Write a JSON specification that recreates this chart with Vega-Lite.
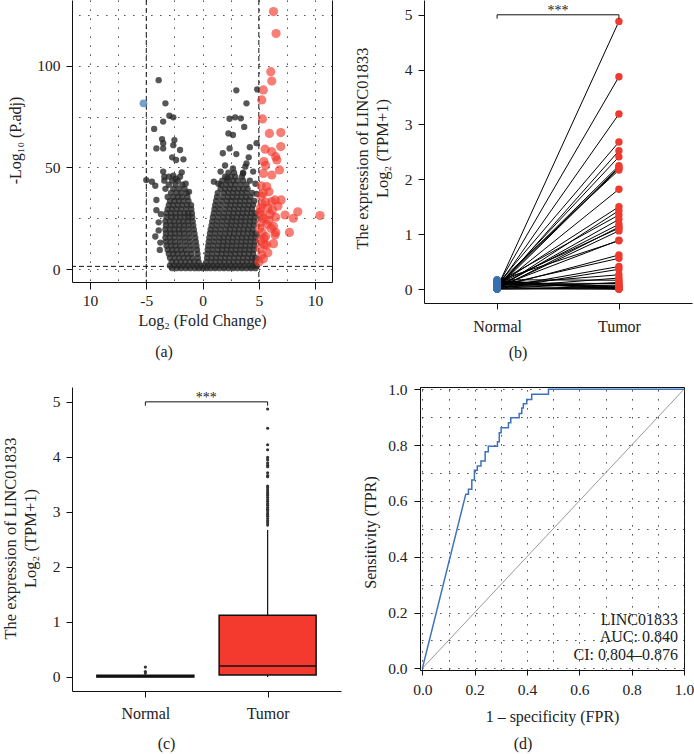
{
"$schema":"https://vega.github.io/schema/vega-lite/v6.json",
"autosize":{"type":"none"},
"padding":{"left":72,"top":0,"right":622,"bottom":754},
"config":{
 "view":{"stroke":null},
 "font":"Liberation Serif",
 "axis":{"labelFont":"Liberation Serif","titleFont":"Liberation Serif","labelFontSize":15.5,"titleFontSize":16,"titleFontWeight":"normal","labelColor":"#222","titleColor":"#222","domainColor":"#111","tickColor":"#111","grid":false,"labelFlush":false,"labelOverlap":false},
 "title":{"font":"Liberation Serif","fontSize":16,"fontWeight":"normal","color":"#222"},
 "text":{"font":"Liberation Serif"}
},
"datasets":{
 "ns":[
{"x":-2.7,"y":0.4},{"x":-2.3,"y":0.4},{"x":-1.9,"y":0.4},{"x":-1.5,"y":0.4},{"x":-1.1,"y":0.4},{"x":-0.7,"y":0.4},{"x":-0.35,"y":0.4},{"x":0,"y":0.4},{"x":0.35,"y":0.4},{"x":0.7,"y":0.4},{"x":1.1,"y":0.4},{"x":1.5,"y":0.4},{"x":1.9,"y":0.4},{"x":2.3,"y":0.4},{"x":2.7,"y":0.4},{"x":3.1,"y":0.4},{"x":3.5,"y":0.4},{"x":3.9,"y":0.4},{"x":4.3,"y":0.4},{"x":4.7,"y":0.4},
{"x":-2.9,"y":1.6},{"x":-2.5,"y":1.6},{"x":-2.1,"y":1.6},{"x":-1.7,"y":1.6},{"x":-1.3,"y":1.6},{"x":-0.9,"y":1.6},{"x":-0.5,"y":1.6},{"x":-0.15,"y":1.6},{"x":0.15,"y":1.6},{"x":0.5,"y":1.6},{"x":0.9,"y":1.6},{"x":1.3,"y":1.6},{"x":1.7,"y":1.6},{"x":2.1,"y":1.6},{"x":2.5,"y":1.6},{"x":2.9,"y":1.6},{"x":3.3,"y":1.6},{"x":3.7,"y":1.6},{"x":4.1,"y":1.6},{"x":4.5,"y":1.6},{"x":4.75,"y":1.6},
{"x":-2.75,"y":3.5},{"x":-2.35,"y":3.5},{"x":-1.95,"y":3.5},{"x":-1.55,"y":3.5},{"x":-1.15,"y":3.5},{"x":-0.75,"y":3.5},{"x":-0.35,"y":3.5},
{"x":-2.9,"y":5.5},{"x":-2.5,"y":5.5},{"x":-2.1,"y":5.5},{"x":-1.7,"y":5.5},{"x":-1.3,"y":5.5},{"x":-0.9,"y":5.5},{"x":-0.42,"y":5.5},
{"x":-3.0,"y":7.5},{"x":-2.6,"y":7.5},{"x":-2.2,"y":7.5},{"x":-1.8,"y":7.5},{"x":-1.4,"y":7.5},{"x":-1.0,"y":7.5},{"x":-0.45,"y":7.5},
{"x":-3.1,"y":9.5},{"x":-2.7,"y":9.5},{"x":-2.3,"y":9.5},{"x":-1.9,"y":9.5},{"x":-1.5,"y":9.5},{"x":-1.0,"y":9.5},{"x":-0.5,"y":9.5},
{"x":-3.2,"y":11.5},{"x":-2.8,"y":11.5},{"x":-2.4,"y":11.5},{"x":-2.0,"y":11.5},{"x":-1.5,"y":11.5},{"x":-1.05,"y":11.5},{"x":-0.55,"y":11.5},
{"x":-3.25,"y":13.5},{"x":-2.85,"y":13.5},{"x":-2.45,"y":13.5},{"x":-2.0,"y":13.5},{"x":-1.55,"y":13.5},{"x":-1.1,"y":13.5},{"x":-0.6,"y":13.5},
{"x":-3.3,"y":15.5},{"x":-2.9,"y":15.5},{"x":-2.5,"y":15.5},{"x":-2.05,"y":15.5},{"x":-1.6,"y":15.5},{"x":-1.15,"y":15.5},{"x":-0.65,"y":15.5},
{"x":-3.25,"y":17.5},{"x":-2.85,"y":17.5},{"x":-2.45,"y":17.5},{"x":-2.05,"y":17.5},{"x":-1.65,"y":17.5},{"x":-1.2,"y":17.5},{"x":-0.72,"y":17.5},
{"x":-3.3,"y":19.5},{"x":-2.9,"y":19.5},{"x":-2.5,"y":19.5},{"x":-2.1,"y":19.5},{"x":-1.7,"y":19.5},{"x":-1.25,"y":19.5},{"x":-0.78,"y":19.5},
{"x":-3.25,"y":21.5},{"x":-2.85,"y":21.5},{"x":-2.45,"y":21.5},{"x":-2.05,"y":21.5},{"x":-1.65,"y":21.5},{"x":-1.25,"y":21.5},{"x":-0.83,"y":21.5},
{"x":-3.3,"y":23.5},{"x":-2.9,"y":23.5},{"x":-2.5,"y":23.5},{"x":-2.1,"y":23.5},{"x":-1.7,"y":23.5},{"x":-1.3,"y":23.5},{"x":-0.88,"y":23.5},
{"x":-3.2,"y":25.5},{"x":-2.8,"y":25.5},{"x":-2.4,"y":25.5},{"x":-2.0,"y":25.5},{"x":-1.6,"y":25.5},{"x":-1.25,"y":25.5},{"x":-0.92,"y":25.5},
{"x":-3.2,"y":27.5},{"x":-2.8,"y":27.5},{"x":-2.4,"y":27.5},{"x":-2.0,"y":27.5},{"x":-1.6,"y":27.5},{"x":-1.28,"y":27.5},{"x":-0.95,"y":27.5},
{"x":-3.1,"y":29.5},{"x":-2.7,"y":29.5},{"x":-2.3,"y":29.5},{"x":-1.9,"y":29.5},{"x":-1.45,"y":29.5},{"x":-1.0,"y":29.5},
{"x":-3.0,"y":31.5},{"x":-2.6,"y":31.5},{"x":-2.2,"y":31.5},{"x":-1.8,"y":31.5},{"x":-1.4,"y":31.5},{"x":-1.02,"y":31.5},
{"x":-2.9,"y":33.5},{"x":-2.5,"y":33.5},{"x":-2.1,"y":33.5},{"x":-1.7,"y":33.5},{"x":-1.25,"y":33.5},
{"x":-3.1,"y":35.5},{"x":-2.6,"y":35.5},{"x":-2.2,"y":35.5},{"x":-1.8,"y":35.5},{"x":-1.35,"y":35.5},
{"x":-2.8,"y":37.5},{"x":-2.3,"y":37.5},{"x":-1.9,"y":37.5},{"x":-1.4,"y":37.5},
{"x":-3.3,"y":39.5},{"x":-2.6,"y":39.5},{"x":-2.1,"y":39.5},{"x":-1.6,"y":39.5},
{"x":-3.0,"y":41.5},{"x":-2.4,"y":41.5},{"x":-1.8,"y":41.5},
{"x":-2.7,"y":43.5},{"x":-2.2,"y":43.5},{"x":-3.4,"y":43.5},
{"x":-3.0,"y":45.5},{"x":-2.0,"y":45.5},
{"x":-3.9,"y":93},{"x":-3.3,"y":81.6},{"x":-2.95,"y":75.5},{"x":-2.6,"y":74.7},{"x":-3.5,"y":72.6},{"x":-4.3,"y":69},{"x":-3.6,"y":64},{"x":-3.5,"y":62},{"x":-4.1,"y":59.4},{"x":-3.5,"y":59.4},{"x":-2.5,"y":63.5},{"x":-2.6,"y":61},{"x":-2.0,"y":58.6},{"x":-2.7,"y":55},{"x":-1.7,"y":54},{"x":-2.35,"y":53.7},{"x":-1.85,"y":47.6},{"x":-5.0,"y":43.8},{"x":-4.5,"y":43},{"x":-4.2,"y":41},{"x":-3.5,"y":48},{"x":-3.4,"y":45.5},{"x":-4.1,"y":34},{"x":-4.1,"y":29},{"x":-4.2,"y":16},{"x":-3.8,"y":9.4},{"x":-3.9,"y":19},{"x":-3.9,"y":23},{"x":-2.4,"y":44.5},{"x":-2.6,"y":46},{"x":-1.5,"y":42},{"x":-1.2,"y":38},{"x":-3.7,"y":27},{"x":-3.75,"y":13},
{"x":0.35,"y":3.5},{"x":0.75,"y":3.5},{"x":1.15,"y":3.5},{"x":1.55,"y":3.5},{"x":1.95,"y":3.5},{"x":2.35,"y":3.5},{"x":2.75,"y":3.5},{"x":3.15,"y":3.5},{"x":3.55,"y":3.5},{"x":3.95,"y":3.5},{"x":4.35,"y":3.5},{"x":4.7,"y":3.5},
{"x":0.4,"y":5.5},{"x":0.8,"y":5.5},{"x":1.2,"y":5.5},{"x":1.6,"y":5.5},{"x":2.0,"y":5.5},{"x":2.4,"y":5.5},{"x":2.8,"y":5.5},{"x":3.2,"y":5.5},{"x":3.6,"y":5.5},{"x":4.0,"y":5.5},{"x":4.4,"y":5.5},{"x":4.7,"y":5.5},
{"x":0.42,"y":7.5},{"x":0.85,"y":7.5},{"x":1.3,"y":7.5},{"x":1.7,"y":7.5},{"x":2.1,"y":7.5},{"x":2.5,"y":7.5},{"x":2.9,"y":7.5},{"x":3.3,"y":7.5},{"x":3.7,"y":7.5},{"x":4.1,"y":7.5},{"x":4.5,"y":7.5},
{"x":0.46,"y":9.5},{"x":0.9,"y":9.5},{"x":1.35,"y":9.5},{"x":1.75,"y":9.5},{"x":2.15,"y":9.5},{"x":2.55,"y":9.5},{"x":2.95,"y":9.5},{"x":3.35,"y":9.5},{"x":3.75,"y":9.5},{"x":4.15,"y":9.5},{"x":4.55,"y":9.5},
{"x":0.5,"y":11.5},{"x":0.95,"y":11.5},{"x":1.4,"y":11.5},{"x":1.8,"y":11.5},{"x":2.2,"y":11.5},{"x":2.6,"y":11.5},{"x":3.0,"y":11.5},{"x":3.4,"y":11.5},{"x":3.8,"y":11.5},{"x":4.2,"y":11.5},{"x":4.6,"y":11.5},
{"x":0.55,"y":13.5},{"x":1.0,"y":13.5},{"x":1.45,"y":13.5},{"x":1.85,"y":13.5},{"x":2.25,"y":13.5},{"x":2.65,"y":13.5},{"x":3.05,"y":13.5},{"x":3.45,"y":13.5},{"x":3.85,"y":13.5},{"x":4.25,"y":13.5},{"x":4.65,"y":13.5},
{"x":0.6,"y":15.5},{"x":1.05,"y":15.5},{"x":1.5,"y":15.5},{"x":1.9,"y":15.5},{"x":2.3,"y":15.5},{"x":2.7,"y":15.5},{"x":3.1,"y":15.5},{"x":3.5,"y":15.5},{"x":3.9,"y":15.5},{"x":4.3,"y":15.5},{"x":4.7,"y":15.5},
{"x":0.66,"y":17.5},{"x":1.1,"y":17.5},{"x":1.55,"y":17.5},{"x":2.0,"y":17.5},{"x":2.4,"y":17.5},{"x":2.8,"y":17.5},{"x":3.2,"y":17.5},{"x":3.6,"y":17.5},{"x":4.0,"y":17.5},{"x":4.4,"y":17.5},{"x":4.7,"y":17.5},
{"x":0.72,"y":19.5},{"x":1.15,"y":19.5},{"x":1.6,"y":19.5},{"x":2.05,"y":19.5},{"x":2.45,"y":19.5},{"x":2.85,"y":19.5},{"x":3.25,"y":19.5},{"x":3.65,"y":19.5},{"x":4.05,"y":19.5},{"x":4.45,"y":19.5},
{"x":0.8,"y":21.5},{"x":1.25,"y":21.5},{"x":1.7,"y":21.5},{"x":2.15,"y":21.5},{"x":2.55,"y":21.5},{"x":2.95,"y":21.5},{"x":3.35,"y":21.5},{"x":3.75,"y":21.5},{"x":4.15,"y":21.5},{"x":4.55,"y":21.5},
{"x":0.86,"y":23.5},{"x":1.3,"y":23.5},{"x":1.75,"y":23.5},{"x":2.2,"y":23.5},{"x":2.6,"y":23.5},{"x":3.0,"y":23.5},{"x":3.4,"y":23.5},{"x":3.8,"y":23.5},{"x":4.2,"y":23.5},{"x":4.6,"y":23.5},
{"x":0.92,"y":25.5},{"x":1.4,"y":25.5},{"x":1.85,"y":25.5},{"x":2.25,"y":25.5},{"x":2.65,"y":25.5},{"x":3.05,"y":25.5},{"x":3.45,"y":25.5},{"x":3.85,"y":25.5},{"x":4.25,"y":25.5},{"x":4.65,"y":25.5},
{"x":1.0,"y":27.5},{"x":1.45,"y":27.5},{"x":1.9,"y":27.5},{"x":2.35,"y":27.5},{"x":2.75,"y":27.5},{"x":3.15,"y":27.5},{"x":3.55,"y":27.5},{"x":3.95,"y":27.5},{"x":4.35,"y":27.5},{"x":4.7,"y":27.5},
{"x":1.06,"y":29.5},{"x":1.5,"y":29.5},{"x":2.0,"y":29.5},{"x":2.4,"y":29.5},{"x":2.8,"y":29.5},{"x":3.2,"y":29.5},{"x":3.6,"y":29.5},{"x":4.0,"y":29.5},{"x":4.4,"y":29.5},
{"x":1.12,"y":31.5},{"x":1.6,"y":31.5},{"x":2.1,"y":31.5},{"x":2.5,"y":31.5},{"x":2.9,"y":31.5},{"x":3.3,"y":31.5},{"x":3.7,"y":31.5},{"x":4.1,"y":31.5},{"x":4.5,"y":31.5},
{"x":1.2,"y":33.5},{"x":1.7,"y":33.5},{"x":2.15,"y":33.5},{"x":2.55,"y":33.5},{"x":2.95,"y":33.5},{"x":3.35,"y":33.5},{"x":3.75,"y":33.5},{"x":4.15,"y":33.5},{"x":4.6,"y":33.5},
{"x":1.28,"y":35.5},{"x":1.8,"y":35.5},{"x":2.25,"y":35.5},{"x":2.65,"y":35.5},{"x":3.05,"y":35.5},{"x":3.45,"y":35.5},{"x":3.85,"y":35.5},{"x":4.25,"y":35.5},
{"x":1.35,"y":37.5},{"x":1.9,"y":37.5},{"x":2.3,"y":37.5},{"x":2.7,"y":37.5},{"x":3.1,"y":37.5},{"x":3.5,"y":37.5},{"x":3.9,"y":37.5},{"x":4.4,"y":37.5},
{"x":1.6,"y":39.5},{"x":2.0,"y":39.5},{"x":2.4,"y":39.5},{"x":2.8,"y":39.5},{"x":3.2,"y":39.5},{"x":3.6,"y":39.5},{"x":4.0,"y":39.5},
{"x":1.65,"y":41.5},{"x":2.1,"y":41.5},{"x":2.5,"y":41.5},{"x":2.9,"y":41.5},{"x":3.4,"y":41.5},{"x":3.9,"y":41.5},
{"x":1.75,"y":43.5},{"x":2.2,"y":43.5},{"x":2.7,"y":43.5},{"x":3.1,"y":43.5},{"x":3.6,"y":43.5},{"x":4.2,"y":43.5},
{"x":2.0,"y":45.5},{"x":2.5,"y":45.5},{"x":2.9,"y":45.5},{"x":3.5,"y":45.5},
{"x":2.3,"y":47.5},{"x":2.8,"y":47.5},{"x":3.6,"y":47.5},
{"x":3.0,"y":88},{"x":4.85,"y":88.5},{"x":3.9,"y":81.6},{"x":2.9,"y":74.7},{"x":3.4,"y":74.2},{"x":3.7,"y":70},{"x":2.4,"y":74},{"x":2.3,"y":66.8},{"x":2.7,"y":66},{"x":4.2,"y":60},{"x":4.8,"y":62},{"x":2.4,"y":59.4},{"x":1.8,"y":57},{"x":3.0,"y":56.6},{"x":4.1,"y":55},{"x":3.9,"y":52},{"x":3.8,"y":50.4},{"x":2.7,"y":49.6},{"x":3.6,"y":47},{"x":4.5,"y":48},{"x":4.7,"y":42},{"x":2.2,"y":44.7},{"x":1.4,"y":42},{"x":1.0,"y":43},{"x":4.8,"y":37},{"x":1.6,"y":48},{"x":2.0,"y":51}
 ],
 "up":[
{"x":6.3,"y":126.8},{"x":6.53,"y":116},{"x":6.06,"y":97.2},{"x":6.15,"y":92.6},{"x":5.4,"y":88.2},{"x":5.26,"y":83.3},{"x":5.32,"y":73.9},{"x":5.94,"y":66.8},{"x":6.95,"y":67.2},{"x":6.95,"y":60.3},{"x":5.56,"y":59},{"x":6.15,"y":57.8},{"x":6.5,"y":55.3},{"x":6.6,"y":53.7},{"x":5.45,"y":52.9},{"x":5.6,"y":51},{"x":6.83,"y":48.8},{"x":6.15,"y":46.3},{"x":5.4,"y":47.1},{"x":5.7,"y":40.6},{"x":5.2,"y":41},{"x":5.4,"y":37.3},{"x":5.2,"y":36},{"x":5.9,"y":38},{"x":6.44,"y":34},{"x":6.98,"y":34},{"x":6.15,"y":33.2},{"x":5.6,"y":33},{"x":5.3,"y":32},{"x":5.8,"y":30},{"x":6.2,"y":29},{"x":5.1,"y":28},{"x":6.0,"y":27},{"x":6.5,"y":25.5},{"x":7.33,"y":26.6},{"x":8.46,"y":28.2},{"x":8.07,"y":25},{"x":10.44,"y":26.3},{"x":5.4,"y":25},{"x":5.2,"y":23},{"x":5.7,"y":22},{"x":6.3,"y":21},{"x":6.1,"y":20},{"x":5.05,"y":20},{"x":5.3,"y":18},{"x":6.5,"y":18},{"x":7.72,"y":18},{"x":6.44,"y":16.7},{"x":5.6,"y":16},{"x":5.15,"y":14},{"x":6.3,"y":12.5},{"x":5.7,"y":11.8},{"x":5.5,"y":12},{"x":5.1,"y":10},{"x":5.8,"y":8},{"x":5.26,"y":6.9},{"x":5.4,"y":5},{"x":5.0,"y":3.5},{"x":5.15,"y":30},{"x":5.3,"y":26.5},{"x":5.9,"y":24},{"x":6.7,"y":31},{"x":5.45,"y":15}
 ],
 "down":[{"x":-5.25,"y":81.6}],
 "pairs":[
{"id":1,"group":"Normal","value":0.02},{"id":1,"group":"Tumor","value":4.88},
{"id":2,"group":"Normal","value":0.05},{"id":2,"group":"Tumor","value":3.87},
{"id":3,"group":"Normal","value":0.03},{"id":3,"group":"Tumor","value":3.19},
{"id":4,"group":"Normal","value":0.08},{"id":4,"group":"Tumor","value":2.68},
{"id":5,"group":"Normal","value":0.01},{"id":5,"group":"Tumor","value":2.52},
{"id":6,"group":"Normal","value":0.04},{"id":6,"group":"Tumor","value":2.41},
{"id":7,"group":"Normal","value":0.06},{"id":7,"group":"Tumor","value":2.25},
{"id":8,"group":"Normal","value":0.02},{"id":8,"group":"Tumor","value":2.2},
{"id":9,"group":"Normal","value":0.1},{"id":9,"group":"Tumor","value":2.17},
{"id":10,"group":"Normal","value":0.03},{"id":10,"group":"Tumor","value":1.82},
{"id":11,"group":"Normal","value":0.07},{"id":11,"group":"Tumor","value":1.5},
{"id":12,"group":"Normal","value":0.0},{"id":12,"group":"Tumor","value":1.43},
{"id":13,"group":"Normal","value":0.12},{"id":13,"group":"Tumor","value":1.35},
{"id":14,"group":"Normal","value":0.02},{"id":14,"group":"Tumor","value":1.27},
{"id":15,"group":"Normal","value":0.05},{"id":15,"group":"Tumor","value":1.18},
{"id":16,"group":"Normal","value":0.09},{"id":16,"group":"Tumor","value":1.11},
{"id":17,"group":"Normal","value":0.01},{"id":17,"group":"Tumor","value":1.06},
{"id":18,"group":"Normal","value":0.04},{"id":18,"group":"Tumor","value":0.89},
{"id":19,"group":"Normal","value":0.15},{"id":19,"group":"Tumor","value":0.88},
{"id":20,"group":"Normal","value":0.03},{"id":20,"group":"Tumor","value":0.62},
{"id":21,"group":"Normal","value":0.06},{"id":21,"group":"Tumor","value":0.56},
{"id":22,"group":"Normal","value":0.02},{"id":22,"group":"Tumor","value":0.41},
{"id":23,"group":"Normal","value":0.0},{"id":23,"group":"Tumor","value":0.36},
{"id":24,"group":"Normal","value":0.08},{"id":24,"group":"Tumor","value":0.26},
{"id":25,"group":"Normal","value":0.17},{"id":25,"group":"Tumor","value":0.16},
{"id":26,"group":"Normal","value":0.11},{"id":26,"group":"Tumor","value":0.1},
{"id":27,"group":"Normal","value":0.13},{"id":27,"group":"Tumor","value":0.05},
{"id":28,"group":"Normal","value":0.0},{"id":28,"group":"Tumor","value":0.0},
{"id":29,"group":"Normal","value":0.14},{"id":29,"group":"Tumor","value":0.02},
{"id":30,"group":"Normal","value":0.01},{"id":30,"group":"Tumor","value":0.12},
{"id":31,"group":"Normal","value":0.16},{"id":31,"group":"Tumor","value":0.0},
{"id":32,"group":"Normal","value":0.0},{"id":32,"group":"Tumor","value":0.03},
{"id":33,"group":"Normal","value":0.07},{"id":33,"group":"Tumor","value":0.07},
{"id":34,"group":"Normal","value":0.05},{"id":34,"group":"Tumor","value":0.01},
{"id":35,"group":"Normal","value":0.03},{"id":35,"group":"Tumor","value":0.2},
{"id":36,"group":"Normal","value":0.12},{"id":36,"group":"Tumor","value":0.0},
{"id":37,"group":"Normal","value":0.09},{"id":37,"group":"Tumor","value":0.04},
{"id":38,"group":"Normal","value":0.02},{"id":38,"group":"Tumor","value":0.0},
{"id":39,"group":"Normal","value":0.0},{"id":39,"group":"Tumor","value":1.13},
{"id":40,"group":"Normal","value":0.04},{"id":40,"group":"Tumor","value":2.22}
 ],
 "bracket":[{"g":"Normal","y":4.93,"o":1},{"g":"Normal","y":5.0,"o":2},{"g":"Tumor","y":5.0,"o":3},{"g":"Tumor","y":4.93,"o":4}],
 "stars":[{"g":"Normal","y":5.0,"t":"***"}],
 "box":[
{"group":"Normal","lower":0,"q1":0,"median":0.01,"q3":0.03,"upper":0.05},
{"group":"Tumor","lower":0,"q1":0.036,"median":0.2,"q3":1.12,"upper":2.67}
 ],
 "out":[
{"group":"Normal","value":0.18},{"group":"Normal","value":0.1},{"group":"Normal","value":0.07},
{"group":"Tumor","value":4.87},{"group":"Tumor","value":4.52},{"group":"Tumor","value":4.22},{"group":"Tumor","value":4.13},{"group":"Tumor","value":3.99},{"group":"Tumor","value":3.95},{"group":"Tumor","value":3.89},{"group":"Tumor","value":3.85},{"group":"Tumor","value":3.82},{"group":"Tumor","value":3.71},{"group":"Tumor","value":3.66},{"group":"Tumor","value":3.64},{"group":"Tumor","value":3.47},{"group":"Tumor","value":3.44},{"group":"Tumor","value":3.4},{"group":"Tumor","value":3.36},{"group":"Tumor","value":3.33},{"group":"Tumor","value":3.3},{"group":"Tumor","value":3.26},{"group":"Tumor","value":3.22},{"group":"Tumor","value":3.19},{"group":"Tumor","value":3.15},{"group":"Tumor","value":3.12},{"group":"Tumor","value":3.08},{"group":"Tumor","value":3.05},{"group":"Tumor","value":3.02},{"group":"Tumor","value":2.98},{"group":"Tumor","value":2.95},{"group":"Tumor","value":2.92},{"group":"Tumor","value":2.88},{"group":"Tumor","value":2.84},{"group":"Tumor","value":2.8},{"group":"Tumor","value":2.76}
 ],
 "roc":[
{"i":0,"fpr":0,"tpr":0},{"i":1,"fpr":0.166,"tpr":0.624},{"i":2,"fpr":0.176,"tpr":0.624},{"i":3,"fpr":0.176,"tpr":0.642},{"i":4,"fpr":0.189,"tpr":0.642},{"i":5,"fpr":0.189,"tpr":0.675},{"i":6,"fpr":0.199,"tpr":0.675},{"i":7,"fpr":0.199,"tpr":0.71},{"i":8,"fpr":0.21,"tpr":0.71},{"i":9,"fpr":0.21,"tpr":0.725},{"i":10,"fpr":0.224,"tpr":0.725},{"i":11,"fpr":0.224,"tpr":0.743},{"i":12,"fpr":0.24,"tpr":0.743},{"i":13,"fpr":0.24,"tpr":0.776},{"i":14,"fpr":0.252,"tpr":0.776},{"i":15,"fpr":0.252,"tpr":0.796},{"i":16,"fpr":0.287,"tpr":0.796},{"i":17,"fpr":0.287,"tpr":0.812},{"i":18,"fpr":0.294,"tpr":0.812},{"i":19,"fpr":0.294,"tpr":0.844},{"i":20,"fpr":0.301,"tpr":0.844},{"i":21,"fpr":0.301,"tpr":0.862},{"i":22,"fpr":0.329,"tpr":0.862},{"i":23,"fpr":0.329,"tpr":0.88},{"i":24,"fpr":0.338,"tpr":0.88},{"i":25,"fpr":0.338,"tpr":0.898},{"i":26,"fpr":0.37,"tpr":0.898},{"i":27,"fpr":0.37,"tpr":0.913},{"i":28,"fpr":0.38,"tpr":0.913},{"i":29,"fpr":0.38,"tpr":0.933},{"i":30,"fpr":0.386,"tpr":0.933},{"i":31,"fpr":0.386,"tpr":0.948},{"i":32,"fpr":0.399,"tpr":0.948},{"i":33,"fpr":0.399,"tpr":0.963},{"i":34,"fpr":0.418,"tpr":0.963},{"i":35,"fpr":0.418,"tpr":0.982},{"i":36,"fpr":0.482,"tpr":0.982},{"i":37,"fpr":0.482,"tpr":1.0},{"i":38,"fpr":1.0,"tpr":1.0}
 ],
 "diag":[{"x":0,"y":0},{"x":1,"y":1}],
 "notes":[{"x":0.977,"y":0.172,"t":"LINC01833"},{"x":0.977,"y":0.111,"t":"AUC: 0.840"},{"x":0.977,"y":0.047,"t":"CI: 0.804–0.876"}]
},
"spacing":387,
"bounds":"flush",
"resolve":{"scale":{"x":"independent","y":"independent","color":"independent"}},
"vconcat":[
 {"hconcat":[
  {
   "width":260,"height":282,
   "title":{"text":"(a)","orient":"bottom","anchor":"middle","frame":"group","offset":16,"dx":-38,"fontSize":16,"font":"Liberation Serif"},
   "resolve":{"axis":{"x":"independent","y":"independent"}},
   "layer":[
    {"data":{"values":[{"h":1.3}]},"mark":{"type":"rule","strokeDash":[5,3],"color":"#111","strokeWidth":1},
     "encoding":{"y":{"field":"h","type":"quantitative","scale":{"domain":[-6.4,132.5],"nice":false,"zero":false},"axis":{"orient":"right","values":[0,25,50,75,100,125],"grid":true,"gridDash":[1.3,7.7],"gridColor":"#333","gridWidth":1,"labels":false,"ticks":false,"domain":true,"domainColor":"#111","title":null}}}},
    {"data":{"values":[{"v":-5},{"v":5}]},"mark":{"type":"rule","strokeDash":[5,3],"color":"#111","strokeWidth":1},
     "encoding":{"x":{"field":"v","type":"quantitative","scale":{"domain":[-11.6,11.5],"nice":false,"zero":false},"axis":{"orient":"top","values":[-10,-7.5,-5,-2.5,0,2.5,5,7.5,10],"grid":true,"gridDash":[1.3,7.7],"gridColor":"#333","gridWidth":1,"labels":false,"ticks":false,"domain":false,"title":null}}}},
    {"data":{"name":"ns"},"mark":{"type":"circle","size":40,"color":"#262626","opacity":0.78},
     "encoding":{
      "x":{"field":"x","type":"quantitative","scale":{"domain":[-11.6,11.5],"nice":false,"zero":false},"axis":{"orient":"bottom","values":[-10,-5,0,5,10],"labelExpr":"datum.value === -10 ? '10' : (datum.value < 0 ? '-' + abs(datum.value) : datum.label)","tickSize":7,"labelPadding":4,"labelFont":"Liberation Serif","labelFontSize":15.5,"titleFont":"Liberation Serif","titleFontSize":16,"labelColor":"#222","titleColor":"#222","domainColor":"#111","tickColor":"#111","title":"Log₂ (Fold Change)","titleY":38,"titleBaseline":"middle"}},
      "y":{"field":"y","type":"quantitative","scale":{"domain":[-6.4,132.5],"nice":false,"zero":false},"axis":{"orient":"left","values":[0,50,100],"tickSize":6,"labelPadding":6,"labelFont":"Liberation Serif","labelFontSize":15.5,"titleFont":"Liberation Serif","titleFontSize":16,"labelColor":"#222","titleColor":"#222","domainColor":"#111","tickColor":"#111","title":"-Log₁₀ (P.adj)","titleX":-57,"titleY":140,"titleBaseline":"middle","titleAngle":-90}}}},
    {"data":{"name":"up"},"mark":{"type":"circle","size":85,"color":"#f2382b","opacity":0.65},
     "encoding":{"x":{"field":"x","type":"quantitative","axis":null},"y":{"field":"y","type":"quantitative","axis":null}}},
    {"data":{"name":"down"},"mark":{"type":"circle","size":60,"color":"#5a8fc8","opacity":0.85},
     "encoding":{"x":{"field":"x","type":"quantitative","axis":null},"y":{"field":"y","type":"quantitative","axis":null}}}
   ]
  },
  {
   "width":268,"height":303,
   "title":{"text":"(b)","orient":"bottom","anchor":"middle","frame":"group","offset":11,"dx":-40,"fontSize":16,"font":"Liberation Serif"},
   "resolve":{"axis":{"x":"independent","y":"independent"}},
   "layer":[
    {"data":{"name":"pairs"},"mark":{"type":"line","color":"#000","strokeWidth":1},
     "encoding":{
      "x":{"field":"group","type":"nominal","scale":{"type":"point","domain":["Normal","Tumor"],"padding":0.6},"axis":{"orient":"bottom","title":null,"labelAngle":0,"tickSize":6,"labelPadding":9,"labelFont":"Liberation Serif","labelFontSize":16,"labelColor":"#222","domainColor":"#111","tickColor":"#111"}},
      "y":{"field":"value","type":"quantitative","scale":{"domain":[-0.255,5.27],"nice":false,"zero":false},"axis":{"orient":"left","values":[0,1,2,3,4,5],"tickSize":6,"labelPadding":6,"labelFont":"Liberation Serif","labelFontSize":15.5,"titleFont":"Liberation Serif","titleFontSize":16.5,"labelColor":"#222","titleColor":"#222","domainColor":"#111","tickColor":"#111","title":["The expression of LINC01833","Log₂ (TPM+1)"],"titleX":-62,"titleY":148,"titleBaseline":"middle","titleAngle":-90,"titleLineHeight":20}},
      "detail":{"field":"id","type":"nominal"}}},
    {"data":{"name":"pairs"},"mark":{"type":"circle","size":55,"opacity":1},
     "encoding":{"x":{"field":"group","type":"nominal","axis":null},"y":{"field":"value","type":"quantitative","axis":null},
      "color":{"field":"group","type":"nominal","scale":{"domain":["Normal","Tumor"],"range":["#3a6fae","#f03a2e"]},"legend":null}}},
    {"data":{"name":"bracket"},"mark":{"type":"line","color":"#111","strokeWidth":1},
     "encoding":{"x":{"field":"g","type":"nominal","axis":null},"y":{"field":"y","type":"quantitative","axis":null},"order":{"field":"o","type":"quantitative"}}},
    {"data":{"name":"stars"},"mark":{"type":"text","dx":61,"fontSize":14,"baseline":"alphabetic","color":"#222"},
     "encoding":{"x":{"field":"g","type":"nominal","axis":null},"y":{"field":"y","type":"quantitative","axis":null},"text":{"field":"t"}}}
   ]
  }
 ],"spacing":92,"bounds":"flush","align":"none","resolve":{"scale":{"x":"independent","y":"independent","color":"independent"}}},
 {"hconcat":[
  {
   "width":269,"height":304,
   "title":{"text":"(c)","orient":"bottom","anchor":"middle","frame":"group","offset":15,"dx":-40,"fontSize":16,"font":"Liberation Serif"},
   "resolve":{"axis":{"x":"independent","y":"independent"}},
   "layer":[
    {"data":{"name":"box"},"mark":{"type":"rule","color":"#111","strokeWidth":1.2},
     "encoding":{
      "x":{"field":"group","type":"nominal","scale":{"type":"point","domain":["Normal","Tumor"],"padding":0.6},"axis":{"orient":"bottom","title":null,"labelAngle":0,"tickSize":6,"labelPadding":8,"labelFont":"Liberation Serif","labelFontSize":16,"labelColor":"#222","domainColor":"#111","tickColor":"#111"}},
      "y":{"field":"q3","type":"quantitative","scale":{"domain":[-0.255,5.27],"nice":false,"zero":false},"axis":{"orient":"left","values":[0,1,2,3,4,5],"tickSize":6,"labelPadding":6,"labelFont":"Liberation Serif","labelFontSize":15.5,"titleFont":"Liberation Serif","titleFontSize":16.5,"labelColor":"#222","titleColor":"#222","domainColor":"#111","tickColor":"#111","title":["The expression of LINC01833","Log₂ (TPM+1)"],"titleX":-62,"titleY":151,"titleBaseline":"middle","titleAngle":-90,"titleLineHeight":20}},
      "y2":{"field":"upper"}}},
    {"data":{"name":"box"},"mark":{"type":"rule","color":"#111","strokeWidth":1.2},
     "encoding":{"x":{"field":"group","type":"nominal","axis":null},"y":{"field":"lower","type":"quantitative","axis":null},"y2":{"field":"q1"}}},
    {"data":{"name":"box"},"mark":{"type":"bar","width":97,"fill":"#f43a2f","stroke":"#111","strokeWidth":1.5},
     "encoding":{"x":{"field":"group","type":"nominal","axis":null},"y":{"field":"q1","type":"quantitative","axis":null},"y2":{"field":"q3"}}},
    {"data":{"name":"box"},"mark":{"type":"bar","width":97,"fill":"#111","stroke":"#111","strokeWidth":1.5},
     "encoding":{"x":{"field":"group","type":"nominal","axis":null},"y":{"field":"median","type":"quantitative","axis":null},"y2":{"field":"median"}}},
    {"data":{"name":"out"},"mark":{"type":"circle","size":10,"color":"#333","opacity":1},
     "encoding":{"x":{"field":"group","type":"nominal","axis":null},"y":{"field":"value","type":"quantitative","axis":null}}},
    {"data":{"name":"bracket"},"mark":{"type":"line","color":"#111","strokeWidth":1},
     "encoding":{"x":{"field":"g","type":"nominal","axis":null},"y":{"field":"y","type":"quantitative","axis":null},"order":{"field":"o","type":"quantitative"}}},
    {"data":{"name":"stars"},"mark":{"type":"text","dx":61,"fontSize":14,"baseline":"alphabetic","color":"#222"},
     "encoding":{"x":{"field":"g","type":"nominal","axis":null},"y":{"field":"y","type":"quantitative","axis":null},"text":{"field":"t"}}}
   ]
  },
  {
   "width":264,"height":283,
   "view":{"stroke":"#111","strokeWidth":1},
   "title":{"text":"(d)","orient":"bottom","anchor":"middle","frame":"group","offset":12,"dx":-29,"fontSize":16,"font":"Liberation Serif"},
   "resolve":{"axis":{"x":"independent","y":"independent"}},
   "layer":[
    {"data":{"name":"diag"},"mark":{"type":"line","color":"#999","strokeWidth":1},
     "encoding":{
      "x":{"field":"x","type":"quantitative","scale":{"domain":[-0.009,1.0],"nice":false,"zero":false},"axis":{"orient":"top","values":[0,0.1,0.2,0.3,0.4,0.5,0.6,0.7,0.8,0.9,1],"grid":true,"gridDash":[1.3,7.7],"gridColor":"#333","gridWidth":1,"labels":false,"ticks":false,"domain":false,"title":null}},
      "y":{"field":"y","type":"quantitative","scale":{"domain":[-0.006,1.008],"nice":false,"zero":false},"axis":{"orient":"right","values":[0,0.1,0.2,0.3,0.4,0.5,0.6,0.7,0.8,0.9,1],"grid":true,"gridDash":[1.3,7.7],"gridColor":"#333","gridWidth":1,"labels":false,"ticks":false,"domain":false,"title":null}}}},
    {"data":{"name":"roc"},"mark":{"type":"line","color":"#3f72b8","strokeWidth":1.5},
     "encoding":{
      "x":{"field":"fpr","type":"quantitative","axis":{"orient":"bottom","values":[0,0.2,0.4,0.6,0.8,1],"format":".1f","tickSize":5,"labelPadding":7,"labelFont":"Liberation Serif","labelFontSize":15.5,"titleFont":"Liberation Serif","titleFontSize":16,"labelColor":"#222","titleColor":"#222","domainColor":"#111","tickColor":"#111","title":"1 – specificity (FPR)","titleY":46,"titleBaseline":"middle"}},
      "y":{"field":"tpr","type":"quantitative","axis":{"orient":"left","values":[0,0.2,0.4,0.6,0.8,1],"format":".1f","tickSize":6,"labelPadding":7,"labelFont":"Liberation Serif","labelFontSize":15.5,"titleFont":"Liberation Serif","titleFontSize":16,"labelColor":"#222","titleColor":"#222","domainColor":"#111","tickColor":"#111","title":"Sensitivity (TPR)","titleX":-50,"titleY":145,"titleBaseline":"middle","titleAngle":-90}},
      "order":{"field":"i","type":"quantitative"}}},
    {"data":{"name":"notes"},"mark":{"type":"text","align":"right","baseline":"middle","fontSize":16,"color":"#222"},
     "encoding":{"x":{"field":"x","type":"quantitative","axis":null},"y":{"field":"y","type":"quantitative","axis":null},"text":{"field":"t"}}}
   ]
  }
 ],"spacing":79,"bounds":"flush","align":"none","resolve":{"scale":{"x":"independent","y":"independent","color":"independent"}}}
]
}
